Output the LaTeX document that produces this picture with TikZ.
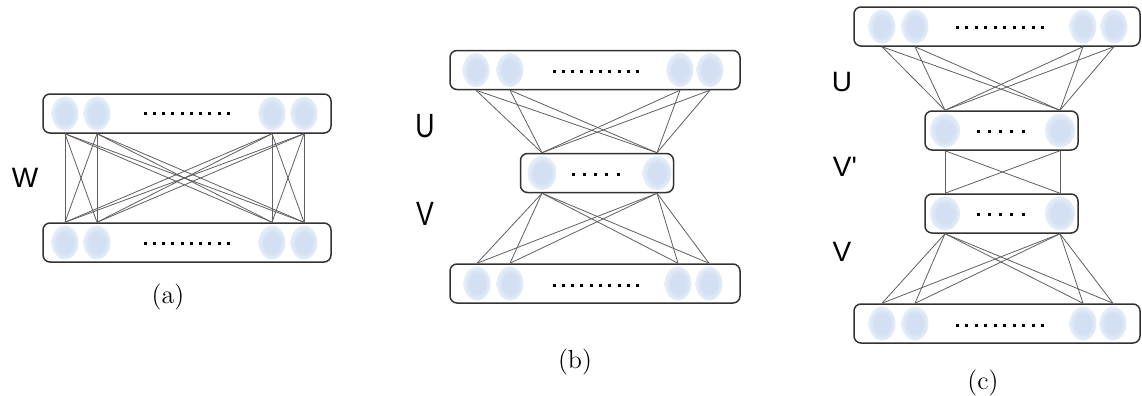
\documentclass[tikz,border=0pt]{standalone}
\usepackage{fontspec}
\newfontfamily\wfont{Liberation Sans}
\usetikzlibrary{shapes.geometric}
\definecolor{boxline}{RGB}{50,50,50}
\definecolor{wirec}{RGB}{95,95,95}
\definecolor{cellblue}{RGB}{211,224,243}
% soft-edged blob used for the units inside each layer
\pgfdeclareradialshading{cellblob}{\pgfpoint{0bp}{0bp}}{%
  color(0bp)=(cellblue); color(15bp)=(cellblue); color(37bp)=(white); color(50bp)=(white)}
\begin{document}
\begin{tikzpicture}[x=0.5pt,y=-0.5pt,
  layer/.style={draw=boxline, line width=0.75pt, rounded corners=3.5pt, fill=white,
    inner sep=0pt, minimum height=19.5pt},
  widelayer/.style={layer, minimum width=144pt},
  narrowlayer/.style={layer, minimum width=76.5pt},
  neuron/.style={ellipse, shade, shading=cellblob,
    inner sep=0pt, minimum width=13.5pt, minimum height=17pt},
  wire/.style={draw=wirec, line width=0.4pt},
  weight/.style={font=\wfont\fontsize{14}{16}\selectfont, inner sep=0pt},
  caption/.style={font=\fontsize{13}{15}\selectfont, inner sep=0pt}]
\useasboundingbox (0,0) rectangle (1142,396);

% ---------- (a) single weight layer ----------
\node[widelayer] (atop) at (187,113.5) {};
\node[widelayer] (abot) at (187,242.5) {};
\foreach \nm/\x in {at1/65,at2/97,at3/272,at4/304}
  \node[neuron] (\nm) at (\x,113.5) {};
\foreach \nm/\x in {ab1/65,ab2/97,ab3/272,ab4/304}
  \node[neuron] (\nm) at (\x,242.5) {};
\foreach \i in {0,...,9} {
  \fill (143.5+\i*9.25,112) rectangle ++(3,3);
  \fill (143.5+\i*9.25,241.5) rectangle ++(3,3);
}
\foreach \t in {at1,at2,at3,at4}
  \foreach \b in {ab1,ab2,ab3,ab4}
    \draw[wire] (\t |- atop.south) -- (\b |- abot.north);
\node[weight] (lw) at (25,178) {W};
\node[caption] (capa) at (168,297) {(a)};

% ---------- (b) factorised into U and V ----------
\node[widelayer, minimum width=145pt] (btop) at (595,70) {};
\node[narrowlayer] (bmid) at (597,173) {};
\node[widelayer, minimum width=145pt] (bbot) at (595,283.5) {};
\foreach \nm/\x in {bt1/476,bt2/510,bt3/680,bt4/710}
  \node[neuron] (\nm) at (\x,70) {};
\foreach \nm/\x in {bm1/542,bm2/657}
  \node[neuron, minimum width=14.5pt] (\nm) at (\x,173) {};
\foreach \nm/\x in {bb1/477,bb2/510,bb3/678,bb4/709}
  \node[neuron] (\nm) at (\x,283.5) {};
\foreach \i in {0,...,9} {
  \fill (552.5+\i*9.3,69.5) rectangle ++(3,3);
  \fill (552.5+\i*9.3,283.5) rectangle ++(3,3);
}
\foreach \i in {0,...,4}
  \fill (571.5+\i*11.3,172.5) rectangle ++(3,3);
\foreach \t in {bt1,bt2,bt3,bt4}
  \foreach \m in {bm1,bm2}
    \draw[wire] (\t |- btop.south) -- (\m |- bmid.north);
\foreach \m in {bm1,bm2}
  \foreach \b in {bb1,bb2,bb3,bb4}
    \draw[wire] (\m |- bmid.south) -- (\b |- bbot.north);
\node[weight] (lbu) at (425,126) {\scalebox{0.95}[1.2]{U}};
\node[weight] (lbv) at (425,214) {\scalebox{0.95}[1.2]{V}};
\node[caption] (capb) at (575,362) {(b)};

% ---------- (c) with an extra square layer V' ----------
\node[widelayer, minimum width=143pt] (ctop) at (997,26.5) {};
\node[narrowlayer] (cm1) at (1001.5,130.5) {};
\node[narrowlayer] (cm2) at (1001.5,213.5) {};
\node[widelayer, minimum width=143pt] (cbot) at (997,323.5) {};
\foreach \nm/\x in {ct1/882,ct2/915,ct3/1083,ct4/1114}
  \node[neuron] (\nm) at (\x,26.5) {};
\foreach \nm/\x in {cp1/945,cp2/1060}
  \node[neuron, minimum width=15pt] (\nm) at (\x,130.5) {};
\foreach \nm/\x in {cq1/945,cq2/1060}
  \node[neuron, minimum width=15pt] (\nm) at (\x,213.5) {};
\foreach \nm/\x in {cb1/882,cb2/915,cb3/1083,cb4/1113}
  \node[neuron] (\nm) at (\x,323.5) {};
\foreach \i in {0,...,9} {
  \fill (955.5+\i*9.5,25.5) rectangle ++(3,3);
  \fill (955.5+\i*9.5,323.5) rectangle ++(3,3);
}
\foreach \i in {0,...,4} {
  \fill (976.5+\i*11.3,129.5) rectangle ++(3,3);
  \fill (976.5+\i*11.3,212.5) rectangle ++(3,3);
}
\foreach \t in {ct1,ct2,ct3,ct4}
  \foreach \m in {cp1,cp2}
    \draw[wire] (\t |- ctop.south) -- (\m |- cm1.north);
\foreach \m in {cp1,cp2}
  \foreach \n in {cq1,cq2}
    \draw[wire] (\m |- cm1.south) -- (\n |- cm2.north);
\foreach \n in {cq1,cq2}
  \foreach \b in {cb1,cb2,cb3,cb4}
    \draw[wire] (\n |- cm2.south) -- (\b |- cbot.north);
\node[weight] (lcu) at (842,82) {U};
\node[weight] (lcv2) at (845,167) {V'};
\node[weight] (lcv) at (842,252) {V};
\node[caption] (capc) at (983,383) {(c)};
\end{tikzpicture}
\end{document}
